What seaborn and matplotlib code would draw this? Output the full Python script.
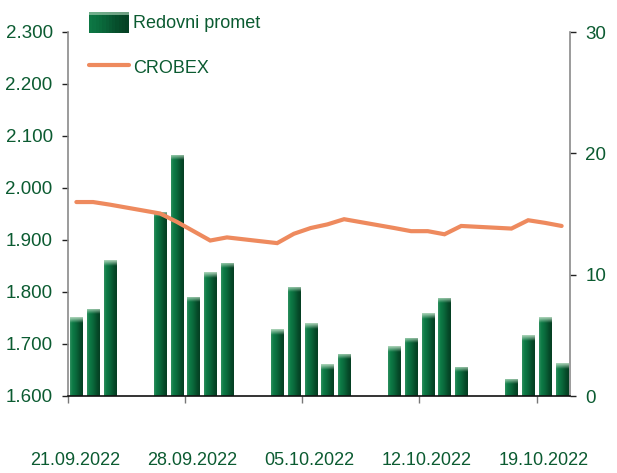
import numpy as np
import pandas as pd
import matplotlib
matplotlib.use("Agg")
import matplotlib.pyplot as plt
import seaborn as sns
from matplotlib.colors import LinearSegmentedColormap
from matplotlib.patches import Patch, Rectangle
from matplotlib.lines import Line2D
from matplotlib.legend_handler import HandlerPatch
from matplotlib.transforms import ScaledTranslation

# ---- data ----
dates = ["21.09.2022", "22.09.2022", "23.09.2022",
         "26.09.2022", "27.09.2022", "28.09.2022", "29.09.2022", "30.09.2022",
         "03.10.2022", "04.10.2022", "05.10.2022", "06.10.2022", "07.10.2022",
         "10.10.2022", "11.10.2022", "12.10.2022", "13.10.2022", "14.10.2022",
         "17.10.2022", "18.10.2022", "19.10.2022", "20.10.2022"]
redovni_promet = [6.5, 7.2, 11.2, 15.2, 19.9, 8.2, 10.2, 11.0,
                  5.5, 9.0, 6.0, 2.6, 3.5,
                  4.1, 4.8, 6.8, 8.1, 2.4,
                  1.4, 5.0, 6.5, 2.7]
crobex = [1973, 1973, 1968, 1951, 1935, 1917, 1899, 1905,
          1894, 1912, 1923, 1930, 1940,
          1923, 1917, 1917, 1911, 1927,
          1922, 1938, 1933, 1927]
tick_labels = ["21.09.2022", "28.09.2022", "05.10.2022", "12.10.2022", "19.10.2022"]
left_ticks = [1600, 1700, 1800, 1900, 2000, 2100, 2200, 2300]
right_ticks = [0, 10, 20, 30]

# ---- styling ----
sns.set_theme(style="white")
FONT = ["Liberation Sans", "DejaVu Sans"]
plt.rcParams["font.family"] = FONT
TXT = "#0b5b31"
LINE_C = "#ee8a5e"
BAR_C = "#0a6b3c"

d = pd.to_datetime(dates, format="%d.%m.%Y")
start = pd.Timestamp("2022-09-21")
pos = (d - start).days.values + 0.5
df = pd.DataFrame({"pos": pos, "promet": redovni_promet, "crobex": crobex})

fig = plt.figure(figsize=(6.17, 4.73), dpi=100)
ax = fig.add_axes([68/617, 1-396/473, (570-68)/617, (396-32)/473])
ax2 = ax.twinx()

# bars on right axis
sns.barplot(data=df, x="pos", y="promet", native_scale=True, width=0.72,
            color=BAR_C, ax=ax2, saturation=1, edgecolor="none")

cmap = LinearSegmentedColormap.from_list(
    "g", [(0.0, "#2f8f5f"), (0.18, "#0e7c47"), (0.45, "#0a6a3c"),
          (0.8, "#064a29"), (1.0, "#053e22")])
grad = np.linspace(0, 1, 64).reshape(1, -1)
for p in list(ax2.patches):
    x0, y0 = p.get_x(), p.get_y()
    w, h = p.get_width(), p.get_height()
    im = ax2.imshow(grad, cmap=cmap, aspect="auto", extent=[x0, x0+w, y0, y0+h],
                    zorder=p.get_zorder()+0.1, interpolation="bilinear")
    im.set_clip_path(p)
    cap = np.zeros((16, 1, 4))
    cap[..., 0:3] = np.array([0.72, 0.86, 0.76])
    cap[:, 0, 3] = np.linspace(0.95, 0.0, 16)
    ch = min(0.45, h)
    im2 = ax2.imshow(cap, aspect="auto", extent=[x0, x0+w, y0+h-ch, y0+h],
                     zorder=p.get_zorder()+0.2, interpolation="bilinear")
    im2.set_clip_path(p)

# line on left axis
sns.lineplot(data=df, x="pos", y="crobex", ax=ax, color=LINE_C, lw=3.0,
             solid_joinstyle="miter")
ax.set_zorder(ax2.get_zorder()+1)
ax.patch.set_visible(False)

ax.set_xlim(0, 30)
ax.set_ylim(1600, 2300)
ax2.set_ylim(0, 30)

ax.set_yticks(left_ticks)
ax.set_yticklabels([f"{v//1000}.{v%1000:03d}" for v in left_ticks])
ax2.set_yticks(right_ticks)
ax2.set_yticklabels([str(v) for v in right_ticks])
ax.set_xticks([0, 7, 14, 21, 28])
ax.set_xticklabels(tick_labels)
ax2.tick_params(axis="x", bottom=False, labelbottom=False, top=False, labeltop=False)

for a in (ax, ax2):
    a.set_xlabel("")
    a.set_ylabel("")
    a.grid(False)
    for s in a.spines.values():
        s.set_visible(False)

ax.spines["left"].set_visible(True)
ax.spines["left"].set_color("#8a8a8a")
ax.spines["left"].set_linewidth(1.2)
ax.spines["bottom"].set_visible(True)
ax.spines["bottom"].set_color("#111111")
ax.spines["bottom"].set_linewidth(1.2)
ax2.spines["right"].set_visible(True)
ax2.spines["right"].set_color("#8a8a8a")
ax2.spines["right"].set_linewidth(1.2)

ax.tick_params(axis="y", left=True, direction="out", length=4, width=1,
               color="#222222", labelsize=13.5, labelcolor=TXT, pad=7)
ax2.tick_params(axis="y", right=True, direction="out", length=4, width=1,
                color="#222222", labelsize=13.5, labelcolor=TXT, pad=7)
ax.tick_params(axis="x", bottom=True, direction="out", length=5, width=1,
               color="#777777", labelsize=13, labelcolor=TXT, pad=35)
for lbl in ax.get_xticklabels():
    lbl.set_transform(lbl.get_transform() + ScaledTranslation(0.07, 0, fig.dpi_scale_trans))


class GradientBarHandler(HandlerPatch):
    def create_artists(self, legend, orig_handle, xdescent, ydescent,
                       width, height, fontsize, trans):
        arts = []
        n = 12
        for i in range(n):
            r = Rectangle((-xdescent + width * i / n, -ydescent), width / n + 0.3, height,
                          facecolor=cmap(0.25 + 0.7 * (i / (n - 1))), edgecolor="none",
                          transform=trans)
            arts.append(r)
        top = Rectangle((-xdescent, -ydescent + height * 0.85), width, height * 0.15,
                        facecolor="#9cc8ab", edgecolor="none", alpha=0.7, transform=trans)
        arts.append(top)
        return arts


handles = [Patch(facecolor=BAR_C, edgecolor="none"),
           Line2D([0], [0], color=LINE_C, lw=3.0)]
leg = fig.legend(handles, ["Redovni promet", "CROBEX"], loc="upper left",
                 bbox_to_anchor=(89/617, 1-12/473), frameon=False, fontsize=13,
                 handlelength=2.2, handleheight=1.4, handletextpad=0.25,
                 labelspacing=1.3, borderpad=0, borderaxespad=0,
                 handler_map={Patch: GradientBarHandler()})
for t in leg.get_texts():
    t.set_color(TXT)

fig.savefig("out.png", dpi=100)
